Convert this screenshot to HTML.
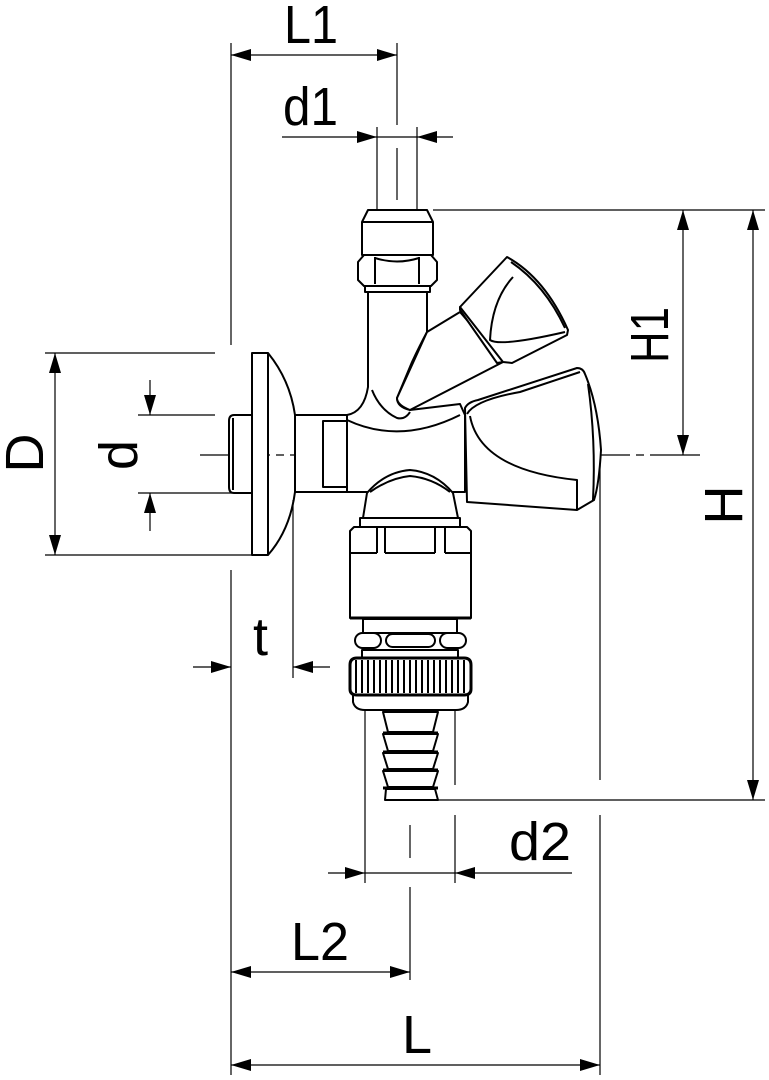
<!DOCTYPE html>
<html><head><meta charset="utf-8"><style>
html,body{margin:0;padding:0;background:#fff}
svg{display:block}
text{font-family:"Liberation Sans",Arial,sans-serif;font-size:54px;fill:#000}
</style></head><body>
<svg width="769" height="1080" viewBox="0 0 769 1080" xmlns="http://www.w3.org/2000/svg">
<defs>
<marker id="b" viewBox="0 0 20 12" refX="20" refY="6" markerWidth="20" markerHeight="12" markerUnits="userSpaceOnUse" orient="auto-start-reverse"><path d="M0,0L20,6L0,12z" fill="#000"/></marker>
</defs>
<g stroke="#000" stroke-width="1.2" fill="none">
<!-- extension lines -->
<line x1="231" y1="43" x2="231" y2="345"/>
<line x1="231" y1="570" x2="231" y2="1075"/>
<line x1="397" y1="43" x2="397" y2="125"/>
<line x1="377" y1="127" x2="377" y2="210"/>
<line x1="417" y1="127" x2="417" y2="210"/>
<line x1="397" y1="148" x2="397" y2="200"/>
<line x1="433" y1="210" x2="765" y2="210"/>
<line x1="200" y1="455" x2="700" y2="455" stroke-dasharray="70,6,8,6"/>
<line x1="438" y1="800" x2="765" y2="800"/>
<line x1="45" y1="353" x2="215" y2="353"/>
<line x1="45" y1="555" x2="252" y2="555"/>
<line x1="138" y1="415" x2="215" y2="415"/>
<line x1="138" y1="493" x2="232" y2="493"/>
<line x1="293" y1="500" x2="293" y2="678"/>
<line x1="365" y1="700" x2="365" y2="883"/>
<line x1="455" y1="650" x2="455" y2="785"/>
<line x1="455" y1="815" x2="455" y2="883"/>
<line x1="410" y1="825" x2="410" y2="858"/>
<line x1="410" y1="887" x2="410" y2="980"/>
<line x1="600" y1="465" x2="600" y2="780"/>
<line x1="600" y1="815" x2="600" y2="1075"/>
<!-- dims -->
<line x1="231" y1="55" x2="397" y2="55" marker-start="url(#b)" marker-end="url(#b)"/>
<line x1="282" y1="137" x2="377" y2="137" marker-end="url(#b)"/>
<line x1="453" y1="137" x2="417" y2="137" marker-end="url(#b)"/>
<line x1="377" y1="137" x2="417" y2="137"/>
<line x1="683" y1="210" x2="683" y2="455" marker-start="url(#b)" marker-end="url(#b)"/>
<line x1="753" y1="210" x2="753" y2="800" marker-start="url(#b)" marker-end="url(#b)"/>
<line x1="55" y1="353" x2="55" y2="555" marker-start="url(#b)" marker-end="url(#b)"/>
<line x1="150" y1="380" x2="150" y2="415" marker-end="url(#b)"/>
<line x1="150" y1="531" x2="150" y2="493" marker-end="url(#b)"/>
<line x1="193" y1="667" x2="231" y2="667" marker-end="url(#b)"/>
<line x1="330" y1="667" x2="293" y2="667" marker-end="url(#b)"/>
<line x1="328" y1="873" x2="365" y2="873" marker-end="url(#b)"/>
<line x1="572" y1="873" x2="455" y2="873" marker-end="url(#b)"/>
<line x1="365" y1="873" x2="455" y2="873"/>
<line x1="231" y1="972" x2="410" y2="972" marker-start="url(#b)" marker-end="url(#b)"/>
<line x1="231" y1="1065" x2="600" y2="1065" marker-start="url(#b)" marker-end="url(#b)"/>
</g>
<g stroke="#000" stroke-width="2" fill="#fff" stroke-linejoin="round">
<!-- top cap -->
<path d="M368,210 L427,210 L433,222 L433,255 L362,255 L362,222 Z"/>
<line x1="362" y1="222" x2="433" y2="222"/>
<path d="M358,262 L364,255 L431,255 L437,262 L437,280 L431,286 L364,286 L358,280 Z"/>
<line x1="375" y1="257" x2="375" y2="284"/><line x1="419" y1="257" x2="419" y2="284"/>
<path d="M375,258 Q397,265 419,258" fill="none"/>
<rect x="365" y="286" width="65" height="6"/>
<!-- body -->
<path d="M295,415 L347,415 Q364,412 368,387 L368,292 L427,292 L427,332 Q420,345 412,362 L397,398 Q397,407 410,410 L460,404 L465,415 L465,492 L295,492 Z"/>
<path d="M347,420 Q400,445 460,415" fill="none"/>
<path d="M372,390 Q380,410 397,418 Q405,420 410,412" fill="none"/>
<rect x="323" y="421" width="24" height="66"/>
<line x1="347" y1="415" x2="347" y2="492"/>
<!-- small angled handle cone -->
<path d="M427,332 L460,312 L503,362 L410,410 Q397,405 397,398 Z"/>
<path d="M460,307 L467,312 L503,362 L497,363 L460,310 Z" fill="#fff"/>
<path d="M460,307 L507,257 Q545,278 568,330 L567,335 L512,363 L503,362 Z"/>
<path d="M513,277 Q492,300 490,340 Q500,347 565,332" fill="none"/>
<path d="M511,262 Q545,285 565,328" fill="none"/>
<!-- thread stub -->
<path d="M234,415 L252,415 L252,493 L234,493 Q229,493 229,487 L229,421 Q229,415 234,415 Z"/>
<line x1="233" y1="418" x2="233" y2="490"/>
<!-- flange -->
<rect x="252" y="353" width="16" height="202"/>
<path d="M268,353 Q290,380 295,415 L295,492 Q290,530 268,555" fill="none"/>
<!-- big handle -->
<path d="M465,408 Q468,402 478,400 L577,368 Q583,368 585,374 Q598,405 601,450 Q599,485 594,500 L577,510 L467,502 Z"/>
<path d="M467,414 Q475,400 520,392 L580,372" fill="none"/>
<path d="M470,416 Q480,470 577,480 L577,510" fill="none"/>
<path d="M588,384 Q596,440 593,500" fill="none"/>
<!-- bottom dome -->
<path d="M363,518 L367,493 Q385,472 410,470 Q435,472 453,493 L458,518 Z"/>
<path d="M370,492 Q390,478 410,476 Q432,478 450,492" fill="none"/>
<rect x="360" y="518" width="100" height="9"/>
<!-- nut -->
<path d="M350,531 L354,527 L467,527 L471,531 L471,618 L350,618 Z"/>
<line x1="377" y1="527" x2="377" y2="553"/><line x1="385" y1="527" x2="385" y2="553"/>
<line x1="435" y1="527" x2="435" y2="553"/><line x1="445" y1="527" x2="445" y2="553"/>
<line x1="350" y1="553" x2="377" y2="553"/><line x1="385" y1="553" x2="435" y2="553"/><line x1="445" y1="553" x2="471" y2="553"/>
<line x1="350" y1="618" x2="471" y2="618" stroke-width="3"/>
<rect x="363" y="619" width="94" height="14"/>
<rect x="355" y="633" width="26" height="15" rx="7.5"/>
<rect x="386" y="634" width="49" height="13" rx="6.5"/>
<rect x="440" y="633" width="26" height="15" rx="7.5"/>
<rect x="362" y="650" width="96" height="8"/>
<!-- lower ring -->
<path d="M353,695 L353,702 Q355,710 365,710 L456,710 Q466,710 468,702 L468,695 Z"/>
<!-- knurled ring -->
<path d="M350,665 Q350,658 357,658 L464,658 Q471,658 471,665 L471,689 Q471,695 464,695 L357,695 Q350,695 350,689 Z" stroke-width="3"/>
<!-- hose barb -->
<path d="M383,712 L438,712 L433,732 L388,732 Z"/>
<path d="M383,734 L438,734 L433,751 L388,751 Z"/>
<path d="M383,753 L438,753 L433,769 L388,769 Z"/>
<path d="M383,771 L438,771 L433,787 L388,787 Z"/>
<path d="M386,789 L435,789 L438,800 L385,800 Z"/>
</g>
<g stroke="#000" stroke-width="3">
<line x1="383" y1="733" x2="438" y2="733"/><line x1="383" y1="752" x2="438" y2="752"/><line x1="383" y1="770" x2="438" y2="770"/><line x1="383" y1="788" x2="438" y2="788"/>
</g>
<g stroke="#000" stroke-width="2">
<line x1="356" y1="660" x2="356" y2="693"/><line x1="362" y1="660" x2="362" y2="693"/><line x1="368" y1="660" x2="368" y2="693"/><line x1="374" y1="660" x2="374" y2="693"/><line x1="380" y1="660" x2="380" y2="693"/><line x1="386" y1="660" x2="386" y2="693"/><line x1="392" y1="660" x2="392" y2="693"/><line x1="398" y1="660" x2="398" y2="693"/><line x1="404" y1="660" x2="404" y2="693"/><line x1="410" y1="660" x2="410" y2="693"/><line x1="416" y1="660" x2="416" y2="693"/><line x1="422" y1="660" x2="422" y2="693"/><line x1="428" y1="660" x2="428" y2="693"/><line x1="434" y1="660" x2="434" y2="693"/><line x1="440" y1="660" x2="440" y2="693"/><line x1="446" y1="660" x2="446" y2="693"/><line x1="452" y1="660" x2="452" y2="693"/><line x1="458" y1="660" x2="458" y2="693"/><line x1="464" y1="660" x2="464" y2="693"/>
</g>
<text x="284" y="43" textLength="54" lengthAdjust="spacingAndGlyphs">L1</text>
<text x="283" y="125" textLength="55" lengthAdjust="spacingAndGlyphs">d1</text>
<text x="253" y="655">t</text>
<text x="509" y="860" textLength="62" lengthAdjust="spacingAndGlyphs">d2</text>
<text x="291" y="960" textLength="58" lengthAdjust="spacingAndGlyphs">L2</text>
<text x="402" y="1053">L</text>
<text transform="translate(43,453) rotate(-90)" text-anchor="middle">D</text>
<text transform="translate(137,455) rotate(-90)" text-anchor="middle">d</text>
<text transform="translate(668,335) rotate(-90)" text-anchor="middle" textLength="56" lengthAdjust="spacingAndGlyphs">H1</text>
<text transform="translate(742,505) rotate(-90)" text-anchor="middle">H</text>
</svg>
</body></html>
